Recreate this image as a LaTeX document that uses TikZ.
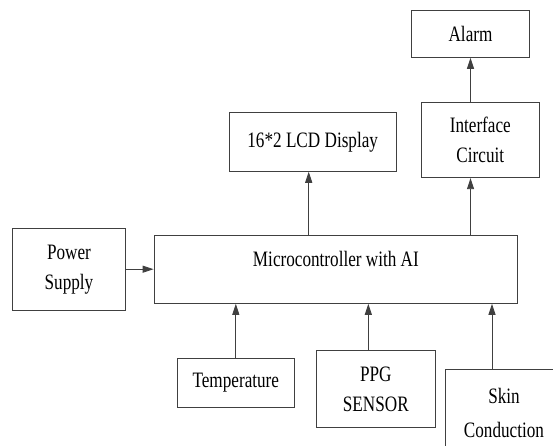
\documentclass[tikz,border=0pt]{standalone}
\usepackage{fontspec}
\setmainfont{Liberation Serif}[FakeStretch=0.78]
\usetikzlibrary{arrows.meta}
\definecolor{Edge}{HTML}{404040}

\begin{document}
\begin{tikzpicture}[x=1pt,y=1pt,>={Triangle[length=11pt,width=7pt]},
  blk/.style={draw=Edge,line width=0.9pt,inner sep=0pt,align=center,font=\fontsize{22}{30}\selectfont},
  flow/.style={->,draw=Edge,line width=0.9pt}]
\path[use as bounding box,clip](0,0)rectangle(553,445);
\fill[white](0,0)rectangle(553,445);
% blocks
\node[blk,minimum width=112.6pt,minimum height=81.7pt](power)at(69,175.8){Power\\Supply};
\node[blk,minimum width=363.7pt,minimum height=68.3pt,text depth=20pt](mcu)at(335.9,175.8){Microcontroller with AI};
\node[blk,minimum width=166.7pt,minimum height=58.6pt](lcd)at(312.7,303){16*2 LCD Display};
\node[blk,minimum width=118pt,minimum height=75pt](iface)at(480.3,304.8){Interface\\Circuit};
\node[blk,minimum width=117.6pt,minimum height=47.3pt](alarm)at(470.5,411.3){Alarm};
\node[blk,minimum width=117pt,minimum height=49pt](temp)at(235.8,62.2){Temperature};
\node[blk,minimum width=118.3pt,minimum height=76.6pt](ppg)at(375.8,56){PPG\\SENSOR};
\node[blk,minimum width=116.6pt,minimum height=87.7pt,font=\fontsize{22}{34}\selectfont](skin)at(504,32){Skin\\Conduction};
% connectors
\draw[flow](power)--(mcu);
\draw[flow]([xshift=-4pt]lcd.south|-mcu.north)--([xshift=-4pt]lcd.south);
\draw[flow](mcu.north-|alarm)--(iface.south-|alarm);
\draw[flow](iface.north-|alarm)--(alarm.south);
\draw[flow](temp)--(temp|-mcu.south);
\draw[flow]([xshift=-7.5pt]ppg.north)--([xshift=-7.5pt]ppg.north|-mcu.south);
\draw[flow]([xshift=-12pt]skin.north)--([xshift=-12pt]skin.north|-mcu.south);
\end{tikzpicture}
\end{document}
